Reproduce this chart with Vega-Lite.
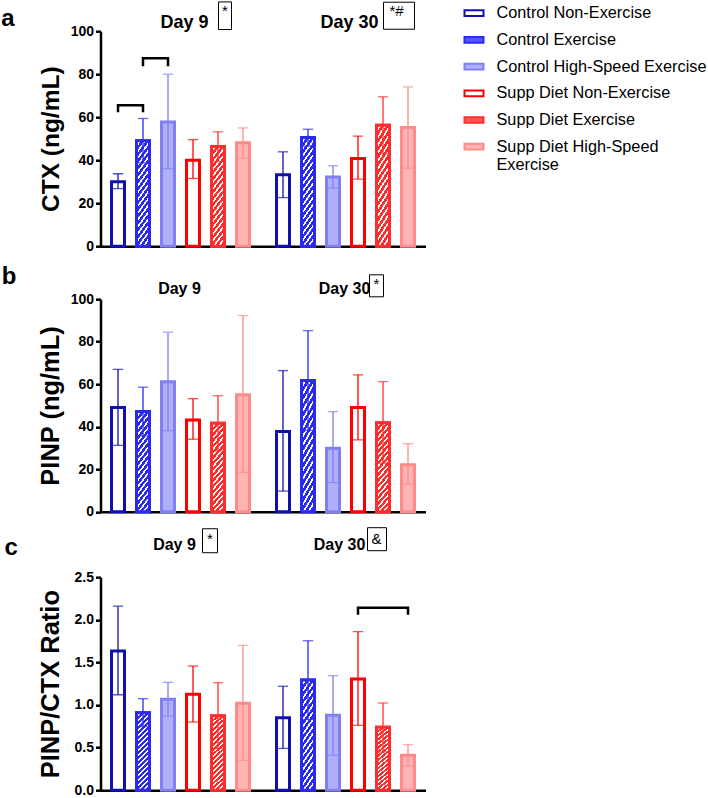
{
"$schema": "https://vega.github.io/schema/vega-lite/v6.json",
"padding": {"left": 0.5, "top": -0.8, "right": 0, "bottom": 0},
"bounds": "flush",
"spacing": 53,
"params": [
{"name": "gB", "value": {"gradient": "linear", "x1": 0, "y1": 0, "x2": 0.192, "y2": 1.137, "stops": [
{"offset":0,"color":"#2a2af0"},{"offset":0.0333,"color":"#2a2af0"},{"offset":0.0333,"color":"#ffffff"},{"offset":0.0556,"color":"#ffffff"},
{"offset":0.0556,"color":"#2a2af0"},{"offset":0.0889,"color":"#2a2af0"},{"offset":0.0889,"color":"#ffffff"},{"offset":0.1111,"color":"#ffffff"},
{"offset":0.1111,"color":"#2a2af0"},{"offset":0.1444,"color":"#2a2af0"},{"offset":0.1444,"color":"#ffffff"},{"offset":0.1667,"color":"#ffffff"},
{"offset":0.1667,"color":"#2a2af0"},{"offset":0.2,"color":"#2a2af0"},{"offset":0.2,"color":"#ffffff"},{"offset":0.2222,"color":"#ffffff"},
{"offset":0.2222,"color":"#2a2af0"},{"offset":0.2556,"color":"#2a2af0"},{"offset":0.2556,"color":"#ffffff"},{"offset":0.2778,"color":"#ffffff"},
{"offset":0.2778,"color":"#2a2af0"},{"offset":0.3111,"color":"#2a2af0"},{"offset":0.3111,"color":"#ffffff"},{"offset":0.3333,"color":"#ffffff"},
{"offset":0.3333,"color":"#2a2af0"},{"offset":0.3667,"color":"#2a2af0"},{"offset":0.3667,"color":"#ffffff"},{"offset":0.3889,"color":"#ffffff"},
{"offset":0.3889,"color":"#2a2af0"},{"offset":0.4222,"color":"#2a2af0"},{"offset":0.4222,"color":"#ffffff"},{"offset":0.4444,"color":"#ffffff"},
{"offset":0.4444,"color":"#2a2af0"},{"offset":0.4778,"color":"#2a2af0"},{"offset":0.4778,"color":"#ffffff"},{"offset":0.5,"color":"#ffffff"},
{"offset":0.5,"color":"#2a2af0"},{"offset":0.5333,"color":"#2a2af0"},{"offset":0.5333,"color":"#ffffff"},{"offset":0.5556,"color":"#ffffff"},
{"offset":0.5556,"color":"#2a2af0"},{"offset":0.5889,"color":"#2a2af0"},{"offset":0.5889,"color":"#ffffff"},{"offset":0.6111,"color":"#ffffff"},
{"offset":0.6111,"color":"#2a2af0"},{"offset":0.6444,"color":"#2a2af0"},{"offset":0.6444,"color":"#ffffff"},{"offset":0.6667,"color":"#ffffff"},
{"offset":0.6667,"color":"#2a2af0"},{"offset":0.7,"color":"#2a2af0"},{"offset":0.7,"color":"#ffffff"},{"offset":0.7222,"color":"#ffffff"},
{"offset":0.7222,"color":"#2a2af0"},{"offset":0.7556,"color":"#2a2af0"},{"offset":0.7556,"color":"#ffffff"},{"offset":0.7778,"color":"#ffffff"},
{"offset":0.7778,"color":"#2a2af0"},{"offset":0.8111,"color":"#2a2af0"},{"offset":0.8111,"color":"#ffffff"},{"offset":0.8333,"color":"#ffffff"},
{"offset":0.8333,"color":"#2a2af0"},{"offset":0.8667,"color":"#2a2af0"},{"offset":0.8667,"color":"#ffffff"},{"offset":0.8889,"color":"#ffffff"},
{"offset":0.8889,"color":"#2a2af0"},{"offset":0.9222,"color":"#2a2af0"},{"offset":0.9222,"color":"#ffffff"},{"offset":0.9444,"color":"#ffffff"},
{"offset":0.9444,"color":"#2a2af0"},{"offset":0.9778,"color":"#2a2af0"},{"offset":0.9778,"color":"#ffffff"},{"offset":1,"color":"#ffffff"}]}},
{"name": "gR", "value": {"gradient": "linear", "x1": 0, "y1": 0, "x2": 0.192, "y2": 1.137, "stops": [
{"offset":0,"color":"#ff2a2a"},{"offset":0.0333,"color":"#ff2a2a"},{"offset":0.0333,"color":"#ffffff"},{"offset":0.0556,"color":"#ffffff"},
{"offset":0.0556,"color":"#ff2a2a"},{"offset":0.0889,"color":"#ff2a2a"},{"offset":0.0889,"color":"#ffffff"},{"offset":0.1111,"color":"#ffffff"},
{"offset":0.1111,"color":"#ff2a2a"},{"offset":0.1444,"color":"#ff2a2a"},{"offset":0.1444,"color":"#ffffff"},{"offset":0.1667,"color":"#ffffff"},
{"offset":0.1667,"color":"#ff2a2a"},{"offset":0.2,"color":"#ff2a2a"},{"offset":0.2,"color":"#ffffff"},{"offset":0.2222,"color":"#ffffff"},
{"offset":0.2222,"color":"#ff2a2a"},{"offset":0.2556,"color":"#ff2a2a"},{"offset":0.2556,"color":"#ffffff"},{"offset":0.2778,"color":"#ffffff"},
{"offset":0.2778,"color":"#ff2a2a"},{"offset":0.3111,"color":"#ff2a2a"},{"offset":0.3111,"color":"#ffffff"},{"offset":0.3333,"color":"#ffffff"},
{"offset":0.3333,"color":"#ff2a2a"},{"offset":0.3667,"color":"#ff2a2a"},{"offset":0.3667,"color":"#ffffff"},{"offset":0.3889,"color":"#ffffff"},
{"offset":0.3889,"color":"#ff2a2a"},{"offset":0.4222,"color":"#ff2a2a"},{"offset":0.4222,"color":"#ffffff"},{"offset":0.4444,"color":"#ffffff"},
{"offset":0.4444,"color":"#ff2a2a"},{"offset":0.4778,"color":"#ff2a2a"},{"offset":0.4778,"color":"#ffffff"},{"offset":0.5,"color":"#ffffff"},
{"offset":0.5,"color":"#ff2a2a"},{"offset":0.5333,"color":"#ff2a2a"},{"offset":0.5333,"color":"#ffffff"},{"offset":0.5556,"color":"#ffffff"},
{"offset":0.5556,"color":"#ff2a2a"},{"offset":0.5889,"color":"#ff2a2a"},{"offset":0.5889,"color":"#ffffff"},{"offset":0.6111,"color":"#ffffff"},
{"offset":0.6111,"color":"#ff2a2a"},{"offset":0.6444,"color":"#ff2a2a"},{"offset":0.6444,"color":"#ffffff"},{"offset":0.6667,"color":"#ffffff"},
{"offset":0.6667,"color":"#ff2a2a"},{"offset":0.7,"color":"#ff2a2a"},{"offset":0.7,"color":"#ffffff"},{"offset":0.7222,"color":"#ffffff"},
{"offset":0.7222,"color":"#ff2a2a"},{"offset":0.7556,"color":"#ff2a2a"},{"offset":0.7556,"color":"#ffffff"},{"offset":0.7778,"color":"#ffffff"},
{"offset":0.7778,"color":"#ff2a2a"},{"offset":0.8111,"color":"#ff2a2a"},{"offset":0.8111,"color":"#ffffff"},{"offset":0.8333,"color":"#ffffff"},
{"offset":0.8333,"color":"#ff2a2a"},{"offset":0.8667,"color":"#ff2a2a"},{"offset":0.8667,"color":"#ffffff"},{"offset":0.8889,"color":"#ffffff"},
{"offset":0.8889,"color":"#ff2a2a"},{"offset":0.9222,"color":"#ff2a2a"},{"offset":0.9222,"color":"#ffffff"},{"offset":0.9444,"color":"#ffffff"},
{"offset":0.9444,"color":"#ff2a2a"},{"offset":0.9778,"color":"#ff2a2a"},{"offset":0.9778,"color":"#ffffff"},{"offset":1,"color":"#ffffff"}]}}
],
"config": {
"font": "Liberation Sans",
"view": {"stroke": null},
"axisY": {"domainWidth": 2.5, "domainColor": "black", "tickWidth": 2.5, "tickColor": "black", "tickSize": 5, "labelFont": "Liberation Sans", "labelFontSize": 14, "labelFontWeight": "bold", "labelColor": "black", "labelPadding": 2, "titleFont": "Liberation Sans", "titleFontWeight": "bold", "titleColor": "black", "titlePadding": 7, "grid": false},
"axisX": {"domainWidth": 2.5, "domainColor": "black", "labels": false, "ticks": false, "grid": false},
"title": {"color": "black", "font": "Liberation Sans"}
},
"datasets": {
"bars": [
{"m":"ctx","day":"Day 9","group":"Control Non-Exercise","mean":30,"lo":26.8,"hi":33.7},
{"m":"ctx","day":"Day 9","group":"Control Exercise","mean":49.1,"lo":38.8,"hi":59.4},
{"m":"ctx","day":"Day 9","group":"Control High-Speed Exercise","mean":57.8,"lo":36.1,"hi":80},
{"m":"ctx","day":"Day 9","group":"Supp Diet Non-Exercise","mean":40,"lo":31.5,"hi":49.6},
{"m":"ctx","day":"Day 9","group":"Supp Diet Exercise","mean":46.4,"lo":39.5,"hi":53.2},
{"m":"ctx","day":"Day 9","group":"Supp Diet High-Speed Exercise","mean":48.1,"lo":41,"hi":55},
{"m":"ctx","day":"Day 30","group":"Control Non-Exercise","mean":33.2,"lo":22.6,"hi":43.9},
{"m":"ctx","day":"Day 30","group":"Control Exercise","mean":50.5,"lo":46.6,"hi":54.4},
{"m":"ctx","day":"Day 30","group":"Control High-Speed Exercise","mean":32.2,"lo":27,"hi":37.4},
{"m":"ctx","day":"Day 30","group":"Supp Diet Non-Exercise","mean":40.8,"lo":31.2,"hi":51.2},
{"m":"ctx","day":"Day 30","group":"Supp Diet Exercise","mean":56.3,"lo":43,"hi":69.5},
{"m":"ctx","day":"Day 30","group":"Supp Diet High-Speed Exercise","mean":55.2,"lo":36.3,"hi":74.1},
{"m":"pinp","day":"Day 9","group":"Control Non-Exercise","mean":49,"lo":31.2,"hi":67},
{"m":"pinp","day":"Day 9","group":"Control Exercise","mean":47.1,"lo":35.6,"hi":58.6},
{"m":"pinp","day":"Day 9","group":"Control High-Speed Exercise","mean":61.1,"lo":38.1,"hi":84.5},
{"m":"pinp","day":"Day 9","group":"Supp Diet Non-Exercise","mean":43.2,"lo":34.1,"hi":53.2},
{"m":"pinp","day":"Day 9","group":"Supp Diet Exercise","mean":41.6,"lo":28.6,"hi":54.6},
{"m":"pinp","day":"Day 9","group":"Supp Diet High-Speed Exercise","mean":55,"lo":18.5,"hi":92.3},
{"m":"pinp","day":"Day 30","group":"Control Non-Exercise","mean":37.7,"lo":9.7,"hi":66.4},
{"m":"pinp","day":"Day 30","group":"Control Exercise","mean":61.7,"lo":38.2,"hi":85.2},
{"m":"pinp","day":"Day 30","group":"Control High-Speed Exercise","mean":29.8,"lo":13.7,"hi":47.1},
{"m":"pinp","day":"Day 30","group":"Supp Diet Non-Exercise","mean":49,"lo":33.8,"hi":64.4},
{"m":"pinp","day":"Day 30","group":"Supp Diet Exercise","mean":41.8,"lo":22.8,"hi":61.2},
{"m":"pinp","day":"Day 30","group":"Supp Diet High-Speed Exercise","mean":22.1,"lo":12.9,"hi":32},
{"m":"ratio","day":"Day 9","group":"Control Non-Exercise","mean":1.633,"lo":1.12,"hi":2.16},
{"m":"ratio","day":"Day 9","group":"Control Exercise","mean":0.91,"lo":0.746,"hi":1.074},
{"m":"ratio","day":"Day 9","group":"Control High-Speed Exercise","mean":1.066,"lo":0.87,"hi":1.266},
{"m":"ratio","day":"Day 9","group":"Supp Diet Non-Exercise","mean":1.125,"lo":0.8,"hi":1.457},
{"m":"ratio","day":"Day 9","group":"Supp Diet Exercise","mean":0.875,"lo":0.49,"hi":1.262},
{"m":"ratio","day":"Day 9","group":"Supp Diet High-Speed Exercise","mean":1.02,"lo":0.35,"hi":1.7},
{"m":"ratio","day":"Day 30","group":"Control Non-Exercise","mean":0.85,"lo":0.49,"hi":1.22},
{"m":"ratio","day":"Day 30","group":"Control Exercise","mean":1.293,"lo":0.83,"hi":1.754},
{"m":"ratio","day":"Day 30","group":"Control High-Speed Exercise","mean":0.879,"lo":0.41,"hi":1.344},
{"m":"ratio","day":"Day 30","group":"Supp Diet Non-Exercise","mean":1.305,"lo":0.76,"hi":1.86},
{"m":"ratio","day":"Day 30","group":"Supp Diet Exercise","mean":0.738,"lo":0.45,"hi":1.023},
{"m":"ratio","day":"Day 30","group":"Supp Diet High-Speed Exercise","mean":0.41,"lo":0.285,"hi":0.535}
],
"br": [
{"m":"ctx","b":1,"day":"Day 9","group":"Control Non-Exercise","y":62.3,"o":1},
{"m":"ctx","b":1,"day":"Day 9","group":"Control Non-Exercise","y":65.6,"o":2},
{"m":"ctx","b":1,"day":"Day 9","group":"Control Exercise","y":65.6,"o":3},
{"m":"ctx","b":1,"day":"Day 9","group":"Control Exercise","y":62.3,"o":4},
{"m":"ctx","b":2,"day":"Day 9","group":"Control Exercise","y":83.7,"o":1},
{"m":"ctx","b":2,"day":"Day 9","group":"Control Exercise","y":87.4,"o":2},
{"m":"ctx","b":2,"day":"Day 9","group":"Control High-Speed Exercise","y":87.4,"o":3},
{"m":"ctx","b":2,"day":"Day 9","group":"Control High-Speed Exercise","y":83.7,"o":4},
{"m":"ratio","b":3,"day":"Day 30","group":"Supp Diet Non-Exercise","y":2.06,"o":1},
{"m":"ratio","b":3,"day":"Day 30","group":"Supp Diet Non-Exercise","y":2.142,"o":2},
{"m":"ratio","b":3,"day":"Day 30","group":"Supp Diet High-Speed Exercise","y":2.142,"o":3},
{"m":"ratio","b":3,"day":"Day 30","group":"Supp Diet High-Speed Exercise","y":2.06,"o":4}
]
},
"vconcat": [
{
"width": 325, "height": 215,
"title": {"text": "a", "anchor": "start", "frame": "bounds", "fontSize": 24, "fontWeight": "bold", "baseline": "alphabetic", "offset": -50, "dx": -36.8},
"encoding": {"x": {"field": "day", "type": "nominal", "title": null, "scale": {"domain": ["Day 9", "Day 30"], "paddingInner": 0.0909, "paddingOuter": 0.0303}}},
"layer": [
{"data": {"name": "bars"}, "transform": [{"filter": "datum.m == 'ctx'"}],
"mark": {"type": "bar", "strokeWidth": 3},
"encoding": {
"xOffset": {"field": "group", "type": "nominal", "scale": {"domain": ["Control Non-Exercise","Control Exercise","Control High-Speed Exercise","Supp Diet Non-Exercise","Supp Diet Exercise","Supp Diet High-Speed Exercise"], "paddingInner": 0.48, "paddingOuter": 0.24}},
"y": {"field": "mean", "type": "quantitative", "scale": {"domain": [0, 100]}, "axis": {"title": "CTX (ng/mL)", "values": [0,20,40,60,80,100], "titleFontSize": 24.5}},
"fill": {"field": "group", "type": "nominal", "title": null, "scale": {"domain": ["Control Non-Exercise","Control Exercise","Control High-Speed Exercise","Supp Diet Non-Exercise","Supp Diet Exercise","Supp Diet High-Speed Exercise"], "range": ["#ffffff","#5656f2","#b0b0f8","#ffffff","#ff5a5a","#ffb4b4"]},
"legend": {"orient": "none", "legendX": 363, "legendY": -28.5, "padding": 0, "labelExpr": "datum.label == 'Supp Diet High-Speed Exercise' ? ['Supp Diet High-Speed', 'Exercise'] : datum.label", "labelFont": "Liberation Sans", "labelFontSize": 16.3, "labelColor": "black", "labelLimit": 320, "labelOffset": 12, "rowPadding": 7.7, "symbolType": "M-1,-0.3H1V0.3H-1Z", "symbolSize": 361, "symbolStrokeWidth": 2}},
"stroke": {"field": "group", "type": "nominal", "title": null, "scale": {"domain": ["Control Non-Exercise","Control Exercise","Control High-Speed Exercise","Supp Diet Non-Exercise","Supp Diet Exercise","Supp Diet High-Speed Exercise"], "range": ["#1010b0","#2b2bef","#8080f2","#ff0000","#ff2e2e","#ff8a8a"]},
"legend": {"orient": "none", "legendX": 363, "legendY": -28.5, "padding": 0, "labelExpr": "datum.label == 'Supp Diet High-Speed Exercise' ? ['Supp Diet High-Speed', 'Exercise'] : datum.label", "labelFont": "Liberation Sans", "labelFontSize": 16.3, "labelColor": "black", "labelLimit": 320, "labelOffset": 12, "rowPadding": 7.7, "symbolType": "M-1,-0.3H1V0.3H-1Z", "symbolSize": 361, "symbolStrokeWidth": 2}}
}},
{"data": {"name": "bars"}, "transform": [{"filter": "datum.m == 'ctx' && (datum.group == 'Control Exercise' || datum.group == 'Supp Diet Exercise')"}],
"mark": {"type": "bar", "strokeWidth": 3, "fill": {"expr": "datum.group == 'Control Exercise' ? gB : gR"}, "stroke": {"expr": "datum.group == 'Control Exercise' ? '#2b2bef' : '#ff2e2e'"}},
"encoding": {
"xOffset": {"field": "group", "type": "nominal", "scale": {"domain": ["Control Non-Exercise","Control Exercise","Control High-Speed Exercise","Supp Diet Non-Exercise","Supp Diet Exercise","Supp Diet High-Speed Exercise"], "paddingInner": 0.48, "paddingOuter": 0.24}},
"y": {"field": "mean", "type": "quantitative", "scale": {"domain": [0, 100]}, "axis": {"title": "CTX (ng/mL)", "values": [0,20,40,60,80,100], "titleFontSize": 24.5}}
}},
{"data": {"name": "bars"}, "transform": [{"filter": "datum.m == 'ctx'"}],
"mark": {"type": "rule", "strokeWidth": 1.3},
"encoding": {
"xOffset": {"field": "group", "type": "nominal", "scale": {"domain": ["Control Non-Exercise","Control Exercise","Control High-Speed Exercise","Supp Diet Non-Exercise","Supp Diet Exercise","Supp Diet High-Speed Exercise"], "paddingInner": 0.48, "paddingOuter": 0.24}},
"y": {"field": "lo", "type": "quantitative", "scale": {"domain": [0, 100]}, "axis": {"title": "CTX (ng/mL)", "values": [0,20,40,60,80,100], "titleFontSize": 24.5}},
"y2": {"field": "hi"},
"stroke": {"field": "group", "type": "nominal", "legend": null, "scale": {"domain": ["Control Non-Exercise","Control Exercise","Control High-Speed Exercise","Supp Diet Non-Exercise","Supp Diet Exercise","Supp Diet High-Speed Exercise"], "range": ["#1010b0","#2b2bef","#8080f2","#ff0000","#ff2e2e","#ff8a8a"]}}
}},
{"data": {"name": "bars"}, "transform": [{"filter": "datum.m == 'ctx'"}],
"mark": {"type": "tick", "orient": "horizontal", "size": 9, "thickness": 0.01, "filled": false, "strokeWidth": 1.3},
"encoding": {
"xOffset": {"field": "group", "type": "nominal", "scale": {"domain": ["Control Non-Exercise","Control Exercise","Control High-Speed Exercise","Supp Diet Non-Exercise","Supp Diet Exercise","Supp Diet High-Speed Exercise"], "paddingInner": 0.48, "paddingOuter": 0.24}},
"y": {"field": "hi", "type": "quantitative", "scale": {"domain": [0, 100]}, "axis": {"title": "CTX (ng/mL)", "values": [0,20,40,60,80,100], "titleFontSize": 24.5}},
"stroke": {"field": "group", "type": "nominal", "legend": null, "scale": {"domain": ["Control Non-Exercise","Control Exercise","Control High-Speed Exercise","Supp Diet Non-Exercise","Supp Diet Exercise","Supp Diet High-Speed Exercise"], "range": ["#1010b0","#2b2bef","#8080f2","#ff0000","#ff2e2e","#ff8a8a"]}}
}},
{"data": {"name": "bars"}, "transform": [{"filter": "datum.m == 'ctx'"}],
"mark": {"type": "tick", "orient": "horizontal", "size": 9, "thickness": 0.01, "filled": false, "strokeWidth": 1.3},
"encoding": {
"xOffset": {"field": "group", "type": "nominal", "scale": {"domain": ["Control Non-Exercise","Control Exercise","Control High-Speed Exercise","Supp Diet Non-Exercise","Supp Diet Exercise","Supp Diet High-Speed Exercise"], "paddingInner": 0.48, "paddingOuter": 0.24}},
"y": {"field": "lo", "type": "quantitative", "scale": {"domain": [0, 100]}, "axis": {"title": "CTX (ng/mL)", "values": [0,20,40,60,80,100], "titleFontSize": 24.5}},
"stroke": {"field": "group", "type": "nominal", "legend": null, "scale": {"domain": ["Control Non-Exercise","Control Exercise","Control High-Speed Exercise","Supp Diet Non-Exercise","Supp Diet Exercise","Supp Diet High-Speed Exercise"], "range": ["#1010b0","#2b2bef","#8080f2","#ff0000","#ff2e2e","#ff8a8a"]}}
}},
{"data": {"name": "br"}, "transform": [{"filter": "datum.m == 'ctx'"}],
"mark": {"type": "line", "color": "black", "strokeWidth": 2.5},
"encoding": {
"xOffset": {"field": "group", "type": "nominal", "scale": {"domain": ["Control Non-Exercise","Control Exercise","Control High-Speed Exercise","Supp Diet Non-Exercise","Supp Diet Exercise","Supp Diet High-Speed Exercise"], "paddingInner": 0.48, "paddingOuter": 0.24}},
"y": {"field": "y", "type": "quantitative", "scale": {"domain": [0, 100]}, "axis": {"title": "CTX (ng/mL)", "values": [0,20,40,60,80,100], "titleFontSize": 24.5}},
"detail": {"field": "b", "type": "nominal"},
"order": {"field": "o", "type": "quantitative"}
}},
{"data": {"values": [{"day": "Day 9"}, {"day": "Day 30"}]},
"mark": {"type": "text", "fontSize": 18, "fontWeight": "bold", "baseline": "alphabetic", "xOffset": 4},
"encoding": {"y": {"datum": 101.7, "type": "quantitative", "scale": {"domain": [0, 100]}, "axis": {"title": "CTX (ng/mL)", "values": [0,20,40,60,80,100], "titleFontSize": 24.5}}, "text": {"field": "day"}}},
{"data": {"values": [{"day": "Day 9"}]},
"mark": {"type": "point", "shape": "M-0.65,-1.38H0.65V1.38H-0.65Z", "size": 400, "filled": false, "stroke": "black", "strokeWidth": 1, "opacity": 1, "xOffset": 44.5},
"encoding": {"y": {"datum": 107.2, "type": "quantitative", "scale": {"domain": [0, 100]}, "axis": {"title": "CTX (ng/mL)", "values": [0,20,40,60,80,100], "titleFontSize": 24.5}}}},
{"data": {"values": [{"day": "Day 30"}]},
"mark": {"type": "point", "shape": "M-1.55,-1.35H1.55V1.35H-1.55Z", "size": 400, "filled": false, "stroke": "black", "strokeWidth": 1, "opacity": 1, "xOffset": 53.5},
"encoding": {"y": {"datum": 107.2, "type": "quantitative", "scale": {"domain": [0, 100]}, "axis": {"title": "CTX (ng/mL)", "values": [0,20,40,60,80,100], "titleFontSize": 24.5}}}},
{"data": {"values": [{"day": "Day 9", "note": "*"}]},
"mark": {"type": "text", "fontSize": 15, "baseline": "top", "xOffset": 44.5},
"encoding": {"y": {"datum": 112.6, "type": "quantitative", "scale": {"domain": [0, 100]}, "axis": {"title": "CTX (ng/mL)", "values": [0,20,40,60,80,100], "titleFontSize": 24.5}}, "text": {"field": "note"}}},
{"data": {"values": [{"day": "Day 30", "note": "*#"}]},
"mark": {"type": "text", "fontSize": 15, "baseline": "top", "xOffset": 51},
"encoding": {"y": {"datum": 112.6, "type": "quantitative", "scale": {"domain": [0, 100]}, "axis": {"title": "CTX (ng/mL)", "values": [0,20,40,60,80,100], "titleFontSize": 24.5}}, "text": {"field": "note"}}}
]
},
{
"width": 325, "height": 212.5,
"title": {"text": "b", "anchor": "start", "frame": "bounds", "fontSize": 24, "fontWeight": "bold", "baseline": "alphabetic", "offset": -35, "dx": -36.3},
"encoding": {"x": {"field": "day", "type": "nominal", "title": null, "scale": {"domain": ["Day 9", "Day 30"], "paddingInner": 0.0909, "paddingOuter": 0.0303}}},
"layer": [
{"data": {"name": "bars"}, "transform": [{"filter": "datum.m == 'pinp'"}],
"mark": {"type": "bar", "strokeWidth": 3},
"encoding": {
"xOffset": {"field": "group", "type": "nominal", "scale": {"domain": ["Control Non-Exercise","Control Exercise","Control High-Speed Exercise","Supp Diet Non-Exercise","Supp Diet Exercise","Supp Diet High-Speed Exercise"], "paddingInner": 0.48, "paddingOuter": 0.24}},
"y": {"field": "mean", "type": "quantitative", "scale": {"domain": [0, 100]}, "axis": {"title": "PINP (ng/mL)", "values": [0,20,40,60,80,100], "titleFontSize": 25.5}},
"fill": {"field": "group", "type": "nominal", "title": null, "legend": null, "scale": {"domain": ["Control Non-Exercise","Control Exercise","Control High-Speed Exercise","Supp Diet Non-Exercise","Supp Diet Exercise","Supp Diet High-Speed Exercise"], "range": ["#ffffff","#5656f2","#b0b0f8","#ffffff","#ff5a5a","#ffb4b4"]}},
"stroke": {"field": "group", "type": "nominal", "title": null, "legend": null, "scale": {"domain": ["Control Non-Exercise","Control Exercise","Control High-Speed Exercise","Supp Diet Non-Exercise","Supp Diet Exercise","Supp Diet High-Speed Exercise"], "range": ["#1010b0","#2b2bef","#8080f2","#ff0000","#ff2e2e","#ff8a8a"]}}
}},
{"data": {"name": "bars"}, "transform": [{"filter": "datum.m == 'pinp' && (datum.group == 'Control Exercise' || datum.group == 'Supp Diet Exercise')"}],
"mark": {"type": "bar", "strokeWidth": 3, "fill": {"expr": "datum.group == 'Control Exercise' ? gB : gR"}, "stroke": {"expr": "datum.group == 'Control Exercise' ? '#2b2bef' : '#ff2e2e'"}},
"encoding": {
"xOffset": {"field": "group", "type": "nominal", "scale": {"domain": ["Control Non-Exercise","Control Exercise","Control High-Speed Exercise","Supp Diet Non-Exercise","Supp Diet Exercise","Supp Diet High-Speed Exercise"], "paddingInner": 0.48, "paddingOuter": 0.24}},
"y": {"field": "mean", "type": "quantitative", "scale": {"domain": [0, 100]}, "axis": {"title": "PINP (ng/mL)", "values": [0,20,40,60,80,100], "titleFontSize": 25.5}}
}},
{"data": {"name": "bars"}, "transform": [{"filter": "datum.m == 'pinp'"}],
"mark": {"type": "rule", "strokeWidth": 1.3},
"encoding": {
"xOffset": {"field": "group", "type": "nominal", "scale": {"domain": ["Control Non-Exercise","Control Exercise","Control High-Speed Exercise","Supp Diet Non-Exercise","Supp Diet Exercise","Supp Diet High-Speed Exercise"], "paddingInner": 0.48, "paddingOuter": 0.24}},
"y": {"field": "lo", "type": "quantitative", "scale": {"domain": [0, 100]}, "axis": {"title": "PINP (ng/mL)", "values": [0,20,40,60,80,100], "titleFontSize": 25.5}},
"y2": {"field": "hi"},
"stroke": {"field": "group", "type": "nominal", "legend": null, "scale": {"domain": ["Control Non-Exercise","Control Exercise","Control High-Speed Exercise","Supp Diet Non-Exercise","Supp Diet Exercise","Supp Diet High-Speed Exercise"], "range": ["#1010b0","#2b2bef","#8080f2","#ff0000","#ff2e2e","#ff8a8a"]}}
}},
{"data": {"name": "bars"}, "transform": [{"filter": "datum.m == 'pinp'"}],
"mark": {"type": "tick", "orient": "horizontal", "size": 9, "thickness": 0.01, "filled": false, "strokeWidth": 1.3},
"encoding": {
"xOffset": {"field": "group", "type": "nominal", "scale": {"domain": ["Control Non-Exercise","Control Exercise","Control High-Speed Exercise","Supp Diet Non-Exercise","Supp Diet Exercise","Supp Diet High-Speed Exercise"], "paddingInner": 0.48, "paddingOuter": 0.24}},
"y": {"field": "hi", "type": "quantitative", "scale": {"domain": [0, 100]}, "axis": {"title": "PINP (ng/mL)", "values": [0,20,40,60,80,100], "titleFontSize": 25.5}},
"stroke": {"field": "group", "type": "nominal", "legend": null, "scale": {"domain": ["Control Non-Exercise","Control Exercise","Control High-Speed Exercise","Supp Diet Non-Exercise","Supp Diet Exercise","Supp Diet High-Speed Exercise"], "range": ["#1010b0","#2b2bef","#8080f2","#ff0000","#ff2e2e","#ff8a8a"]}}
}},
{"data": {"name": "bars"}, "transform": [{"filter": "datum.m == 'pinp'"}],
"mark": {"type": "tick", "orient": "horizontal", "size": 9, "thickness": 0.01, "filled": false, "strokeWidth": 1.3},
"encoding": {
"xOffset": {"field": "group", "type": "nominal", "scale": {"domain": ["Control Non-Exercise","Control Exercise","Control High-Speed Exercise","Supp Diet Non-Exercise","Supp Diet Exercise","Supp Diet High-Speed Exercise"], "paddingInner": 0.48, "paddingOuter": 0.24}},
"y": {"field": "lo", "type": "quantitative", "scale": {"domain": [0, 100]}, "axis": {"title": "PINP (ng/mL)", "values": [0,20,40,60,80,100], "titleFontSize": 25.5}},
"stroke": {"field": "group", "type": "nominal", "legend": null, "scale": {"domain": ["Control Non-Exercise","Control Exercise","Control High-Speed Exercise","Supp Diet Non-Exercise","Supp Diet Exercise","Supp Diet High-Speed Exercise"], "range": ["#1010b0","#2b2bef","#8080f2","#ff0000","#ff2e2e","#ff8a8a"]}}
}},
{"data": {"values": [{"day": "Day 9"}, {"day": "Day 30"}]},
"mark": {"type": "text", "fontSize": 16, "fontWeight": "bold", "baseline": "alphabetic", "xOffset": -1},
"encoding": {"y": {"datum": 102.5, "type": "quantitative", "scale": {"domain": [0, 100]}, "axis": {"title": "PINP (ng/mL)", "values": [0,20,40,60,80,100], "titleFontSize": 25.5}}, "text": {"field": "day"}}},
{"data": {"values": [{"day": "Day 30"}]},
"mark": {"type": "point", "shape": "M-0.7,-1.1H0.7V1.1H-0.7Z", "size": 400, "filled": false, "stroke": "black", "strokeWidth": 1, "opacity": 1, "xOffset": 31},
"encoding": {"y": {"datum": 106.3, "type": "quantitative", "scale": {"domain": [0, 100]}, "axis": {"title": "PINP (ng/mL)", "values": [0,20,40,60,80,100], "titleFontSize": 25.5}}}},
{"data": {"values": [{"day": "Day 30", "note": "*"}]},
"mark": {"type": "text", "fontSize": 15, "baseline": "top", "xOffset": 31},
"encoding": {"y": {"datum": 110.4, "type": "quantitative", "scale": {"domain": [0, 100]}, "axis": {"title": "PINP (ng/mL)", "values": [0,20,40,60,80,100], "titleFontSize": 25.5}}, "text": {"field": "note"}}}
]
},
{
"width": 325, "height": 225,
"title": {"text": "c", "anchor": "start", "frame": "bounds", "fontSize": 24, "fontWeight": "bold", "baseline": "alphabetic", "offset": -53, "dx": -33.6},
"encoding": {"x": {"field": "day", "type": "nominal", "title": null, "scale": {"domain": ["Day 9", "Day 30"], "paddingInner": 0.0909, "paddingOuter": 0.0303}}},
"layer": [
{"data": {"name": "bars"}, "transform": [{"filter": "datum.m == 'ratio'"}],
"mark": {"type": "bar", "strokeWidth": 3},
"encoding": {
"xOffset": {"field": "group", "type": "nominal", "scale": {"domain": ["Control Non-Exercise","Control Exercise","Control High-Speed Exercise","Supp Diet Non-Exercise","Supp Diet Exercise","Supp Diet High-Speed Exercise"], "paddingInner": 0.48, "paddingOuter": 0.24}},
"y": {"field": "mean", "type": "quantitative", "scale": {"domain": [0, 2.5], "range": [225, 12]}, "axis": {"title": "PINP/CTX Ratio", "values": [0,0.5,1,1.5,2,2.5], "format": ".1f", "titleFontSize": 25.5, "titlePadding": 11}},
"fill": {"field": "group", "type": "nominal", "title": null, "legend": null, "scale": {"domain": ["Control Non-Exercise","Control Exercise","Control High-Speed Exercise","Supp Diet Non-Exercise","Supp Diet Exercise","Supp Diet High-Speed Exercise"], "range": ["#ffffff","#5656f2","#b0b0f8","#ffffff","#ff5a5a","#ffb4b4"]}},
"stroke": {"field": "group", "type": "nominal", "title": null, "legend": null, "scale": {"domain": ["Control Non-Exercise","Control Exercise","Control High-Speed Exercise","Supp Diet Non-Exercise","Supp Diet Exercise","Supp Diet High-Speed Exercise"], "range": ["#1010b0","#2b2bef","#8080f2","#ff0000","#ff2e2e","#ff8a8a"]}}
}},
{"data": {"name": "bars"}, "transform": [{"filter": "datum.m == 'ratio' && (datum.group == 'Control Exercise' || datum.group == 'Supp Diet Exercise')"}],
"mark": {"type": "bar", "strokeWidth": 3, "fill": {"expr": "datum.group == 'Control Exercise' ? gB : gR"}, "stroke": {"expr": "datum.group == 'Control Exercise' ? '#2b2bef' : '#ff2e2e'"}},
"encoding": {
"xOffset": {"field": "group", "type": "nominal", "scale": {"domain": ["Control Non-Exercise","Control Exercise","Control High-Speed Exercise","Supp Diet Non-Exercise","Supp Diet Exercise","Supp Diet High-Speed Exercise"], "paddingInner": 0.48, "paddingOuter": 0.24}},
"y": {"field": "mean", "type": "quantitative", "scale": {"domain": [0, 2.5], "range": [225, 12]}, "axis": {"title": "PINP/CTX Ratio", "values": [0,0.5,1,1.5,2,2.5], "format": ".1f", "titleFontSize": 25.5, "titlePadding": 11}}
}},
{"data": {"name": "bars"}, "transform": [{"filter": "datum.m == 'ratio'"}],
"mark": {"type": "rule", "strokeWidth": 1.3},
"encoding": {
"xOffset": {"field": "group", "type": "nominal", "scale": {"domain": ["Control Non-Exercise","Control Exercise","Control High-Speed Exercise","Supp Diet Non-Exercise","Supp Diet Exercise","Supp Diet High-Speed Exercise"], "paddingInner": 0.48, "paddingOuter": 0.24}},
"y": {"field": "lo", "type": "quantitative", "scale": {"domain": [0, 2.5], "range": [225, 12]}, "axis": {"title": "PINP/CTX Ratio", "values": [0,0.5,1,1.5,2,2.5], "format": ".1f", "titleFontSize": 25.5, "titlePadding": 11}},
"y2": {"field": "hi"},
"stroke": {"field": "group", "type": "nominal", "legend": null, "scale": {"domain": ["Control Non-Exercise","Control Exercise","Control High-Speed Exercise","Supp Diet Non-Exercise","Supp Diet Exercise","Supp Diet High-Speed Exercise"], "range": ["#1010b0","#2b2bef","#8080f2","#ff0000","#ff2e2e","#ff8a8a"]}}
}},
{"data": {"name": "bars"}, "transform": [{"filter": "datum.m == 'ratio'"}],
"mark": {"type": "tick", "orient": "horizontal", "size": 9, "thickness": 0.01, "filled": false, "strokeWidth": 1.3},
"encoding": {
"xOffset": {"field": "group", "type": "nominal", "scale": {"domain": ["Control Non-Exercise","Control Exercise","Control High-Speed Exercise","Supp Diet Non-Exercise","Supp Diet Exercise","Supp Diet High-Speed Exercise"], "paddingInner": 0.48, "paddingOuter": 0.24}},
"y": {"field": "hi", "type": "quantitative", "scale": {"domain": [0, 2.5], "range": [225, 12]}, "axis": {"title": "PINP/CTX Ratio", "values": [0,0.5,1,1.5,2,2.5], "format": ".1f", "titleFontSize": 25.5, "titlePadding": 11}},
"stroke": {"field": "group", "type": "nominal", "legend": null, "scale": {"domain": ["Control Non-Exercise","Control Exercise","Control High-Speed Exercise","Supp Diet Non-Exercise","Supp Diet Exercise","Supp Diet High-Speed Exercise"], "range": ["#1010b0","#2b2bef","#8080f2","#ff0000","#ff2e2e","#ff8a8a"]}}
}},
{"data": {"name": "bars"}, "transform": [{"filter": "datum.m == 'ratio'"}],
"mark": {"type": "tick", "orient": "horizontal", "size": 9, "thickness": 0.01, "filled": false, "strokeWidth": 1.3},
"encoding": {
"xOffset": {"field": "group", "type": "nominal", "scale": {"domain": ["Control Non-Exercise","Control Exercise","Control High-Speed Exercise","Supp Diet Non-Exercise","Supp Diet Exercise","Supp Diet High-Speed Exercise"], "paddingInner": 0.48, "paddingOuter": 0.24}},
"y": {"field": "lo", "type": "quantitative", "scale": {"domain": [0, 2.5], "range": [225, 12]}, "axis": {"title": "PINP/CTX Ratio", "values": [0,0.5,1,1.5,2,2.5], "format": ".1f", "titleFontSize": 25.5, "titlePadding": 11}},
"stroke": {"field": "group", "type": "nominal", "legend": null, "scale": {"domain": ["Control Non-Exercise","Control Exercise","Control High-Speed Exercise","Supp Diet Non-Exercise","Supp Diet Exercise","Supp Diet High-Speed Exercise"], "range": ["#1010b0","#2b2bef","#8080f2","#ff0000","#ff2e2e","#ff8a8a"]}}
}},
{"data": {"name": "br"}, "transform": [{"filter": "datum.m == 'ratio'"}],
"mark": {"type": "line", "color": "black", "strokeWidth": 2.5},
"encoding": {
"xOffset": {"field": "group", "type": "nominal", "scale": {"domain": ["Control Non-Exercise","Control Exercise","Control High-Speed Exercise","Supp Diet Non-Exercise","Supp Diet Exercise","Supp Diet High-Speed Exercise"], "paddingInner": 0.48, "paddingOuter": 0.24}},
"y": {"field": "y", "type": "quantitative", "scale": {"domain": [0, 2.5], "range": [225, 12]}, "axis": {"title": "PINP/CTX Ratio", "values": [0,0.5,1,1.5,2,2.5], "format": ".1f", "titleFontSize": 25.5, "titlePadding": 11}},
"detail": {"field": "b", "type": "nominal"},
"order": {"field": "o", "type": "quantitative"}
}},
{"data": {"values": [{"day": "Day 9"}, {"day": "Day 30"}]},
"mark": {"type": "text", "fontSize": 16, "fontWeight": "bold", "baseline": "alphabetic", "xOffset": -6},
"encoding": {"y": {"datum": 2.823, "type": "quantitative", "scale": {"domain": [0, 2.5], "range": [225, 12]}, "axis": {"title": "PINP/CTX Ratio", "values": [0,0.5,1,1.5,2,2.5], "format": ".1f", "titleFontSize": 25.5, "titlePadding": 11}}, "text": {"field": "day"}}},
{"data": {"values": [{"day": "Day 9"}]},
"mark": {"type": "point", "shape": "M-0.75,-1.2H0.75V1.2H-0.75Z", "size": 400, "filled": false, "stroke": "black", "strokeWidth": 1, "opacity": 1, "xOffset": 29.5},
"encoding": {"y": {"datum": 2.928, "type": "quantitative", "scale": {"domain": [0, 2.5], "range": [225, 12]}, "axis": {"title": "PINP/CTX Ratio", "values": [0,0.5,1,1.5,2,2.5], "format": ".1f", "titleFontSize": 25.5, "titlePadding": 11}}}},
{"data": {"values": [{"day": "Day 30"}]},
"mark": {"type": "point", "shape": "M-0.95,-1.15H0.95V1.15H-0.95Z", "size": 400, "filled": false, "stroke": "black", "strokeWidth": 1, "opacity": 1, "xOffset": 31.5},
"encoding": {"y": {"datum": 2.946, "type": "quantitative", "scale": {"domain": [0, 2.5], "range": [225, 12]}, "axis": {"title": "PINP/CTX Ratio", "values": [0,0.5,1,1.5,2,2.5], "format": ".1f", "titleFontSize": 25.5, "titlePadding": 11}}}},
{"data": {"values": [{"day": "Day 9", "note": "*"}]},
"mark": {"type": "text", "fontSize": 15, "baseline": "top", "xOffset": 29.5},
"encoding": {"y": {"datum": 3.026, "type": "quantitative", "scale": {"domain": [0, 2.5], "range": [225, 12]}, "axis": {"title": "PINP/CTX Ratio", "values": [0,0.5,1,1.5,2,2.5], "format": ".1f", "titleFontSize": 25.5, "titlePadding": 11}}, "text": {"field": "note"}}},
{"data": {"values": [{"day": "Day 30", "note": "&"}]},
"mark": {"type": "text", "fontSize": 15, "baseline": "middle", "xOffset": 31},
"encoding": {"y": {"datum": 2.952, "type": "quantitative", "scale": {"domain": [0, 2.5], "range": [225, 12]}, "axis": {"title": "PINP/CTX Ratio", "values": [0,0.5,1,1.5,2,2.5], "format": ".1f", "titleFontSize": 25.5, "titlePadding": 11}}, "text": {"field": "note"}}}
]
}
]
}
